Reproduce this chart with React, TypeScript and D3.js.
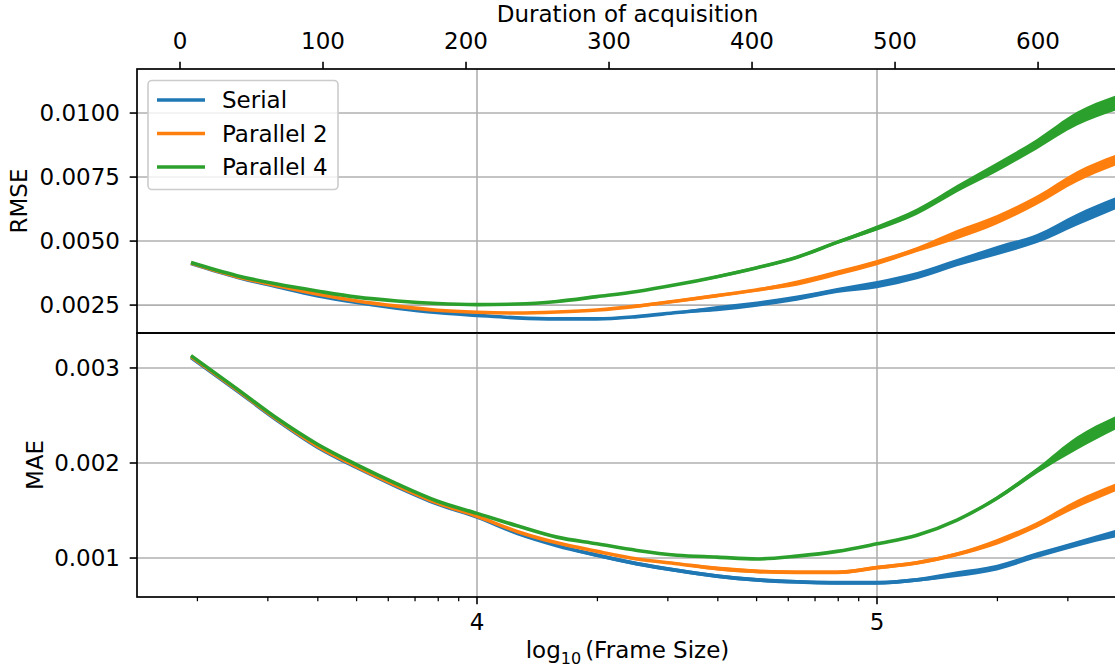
import * as d3 from "d3";

// log10(frame size) sample positions
const logFrame = [
  3.285, 3.4, 3.5, 3.6, 3.7, 3.8, 3.9, 4.0, 4.1, 4.2, 4.3, 4.4, 4.5, 4.6, 4.7,
  4.8, 4.9, 5.0, 5.1, 5.2, 5.3, 5.4, 5.5, 5.6,
];

// RMSE panel
const rmseSerial = [
  0.00412, 0.00359, 0.00322, 0.00287, 0.0026, 0.00238, 0.00221, 0.0021, 0.002,
  0.00196, 0.00196, 0.00205, 0.00221, 0.00236, 0.00254, 0.00277, 0.00307,
  0.0033, 0.00365, 0.00416, 0.00463, 0.0051, 0.00584, 0.0065,
];
const rmseParallel2 = [
  0.00414, 0.00361, 0.00326, 0.00293, 0.00266, 0.00246, 0.0023, 0.00222,
  0.00219, 0.00223, 0.00231, 0.00246, 0.00266, 0.00287, 0.00309, 0.00336,
  0.00375, 0.00416, 0.00467, 0.00525, 0.00584, 0.0066, 0.00752, 0.00818,
];
const rmseParallel4 = [
  0.00416, 0.00365, 0.00332, 0.00305, 0.00281, 0.00266, 0.00256, 0.00252,
  0.00254, 0.00264, 0.00283, 0.00303, 0.0033, 0.00361, 0.00396, 0.00437,
  0.00495, 0.00551, 0.00615, 0.00705, 0.00789, 0.00879, 0.00978, 0.01041,
];
// half-width of the noisy band around each RMSE curve
const rmseSpreadSerial = [
  0.00001, 0.00001, 0.00001, 0.00001, 0.00001, 0.00001, 0.00001, 0.00001,
  0.00001, 0.00004, 0.00004, 0.00004, 0.00004, 0.0001, 0.0001, 0.0001, 0.0001,
  0.00014, 0.00014, 0.00014, 0.00018, 0.00018, 0.00023, 0.00023,
];
const rmseSpreadParallel2 = [
  0.00001, 0.00001, 0.00001, 0.00001, 0.00001, 0.00001, 0.00001, 0.00001,
  0.00001, 0.00001, 0.00001, 0.00006, 0.00006, 0.00006, 0.00006, 0.0001,
  0.0001, 0.0001, 0.0001, 0.00018, 0.00018, 0.00018, 0.00021, 0.00021,
];
const rmseSpreadParallel4 = [
  0.00001, 0.00001, 0.00001, 0.00001, 0.00001, 0.00001, 0.00001, 0.00001,
  0.00001, 0.00003, 0.00003, 0.00003, 0.00003, 0.00006, 0.00006, 0.00006,
  0.00006, 0.0001, 0.00012, 0.00014, 0.00018, 0.0002, 0.00027, 0.00029,
];

// MAE panel
const maeSerial = [
  0.00311, 0.00276, 0.00245, 0.00217, 0.00195, 0.00175, 0.00157, 0.00143,
  0.00126, 0.00113, 0.00103, 0.00094, 0.00087, 0.00081, 0.00077, 0.00075,
  0.00074, 0.00074, 0.00077, 0.00083, 0.0009, 0.00103, 0.00115, 0.00126,
];
const maeParallel2 = [
  0.00312, 0.00277, 0.00246, 0.00218, 0.00196, 0.00176, 0.00158, 0.00144,
  0.00128, 0.00116, 0.00107, 0.00099, 0.00094, 0.00089, 0.00086, 0.00085,
  0.00085, 0.0009, 0.00095, 0.00104, 0.00117, 0.00135, 0.00157, 0.00175,
];
const maeParallel4 = [
  0.00313, 0.00278, 0.00247, 0.0022, 0.00198, 0.00178, 0.0016, 0.00147,
  0.00134, 0.00122, 0.00115, 0.00108, 0.00103, 0.00101, 0.00099, 0.00102,
  0.00107, 0.00115, 0.00124, 0.0014, 0.00163, 0.00192, 0.00221, 0.00243,
];
const maeSpreadSerial = [
  0.00001, 0.00001, 0.00001, 0.00001, 0.00001, 0.00001, 0.00001, 0.00001,
  0.00001, 0.00001, 0.00002, 0.00002, 0.00002, 0.00002, 0.00002, 0.00002,
  0.00002, 0.00002, 0.00002, 0.00003, 0.00003, 0.00003, 0.00003, 0.00004,
];
const maeSpreadParallel2 = [
  0.00001, 0.00001, 0.00001, 0.00001, 0.00001, 0.00001, 0.00001, 0.00001,
  0.00001, 0.00001, 0.00001, 0.00001, 0.00001, 0.00002, 0.00002, 0.00002,
  0.00002, 0.00002, 0.00002, 0.00002, 0.00003, 0.00003, 0.00004, 0.00004,
];
const maeSpreadParallel4 = [
  0.00001, 0.00001, 0.00001, 0.00001, 0.00001, 0.00001, 0.00001, 0.00001,
  0.00001, 0.00001, 0.00001, 0.00001, 0.00001, 0.00001, 0.00001, 0.00001,
  0.00001, 0.00001, 0.00001, 0.00001, 0.00002, 0.00003, 0.00007, 0.00007,
];

const seriesNames = ["Serial", "Parallel 2", "Parallel 4"];
const colors = ["#1f77b4", "#ff7f0e", "#2ca02c"];

const rmseTicks = [0.0025, 0.005, 0.0075, 0.01];
const maeTicks = [0.001, 0.002, 0.003];
const frameTicks = [4, 5];
const durationTicks = [0, 100, 200, 300, 400, 500, 600];

const WIDTH = 1115;
const HEIGHT = 671;
const FONT = "DejaVu Sans, sans-serif";
const FS = 23;
const left = 137;
const right = 1118;
const top = 69;
const mid = 333;
const bottom = 597;

const x = d3.scaleLinear([3.15, 5.6025], [left, right]);
const xDuration = d3.scaleLinear([-30.07, 655.9], [left, right]);
const yRmse = d3.scaleLinear([0.00141, 0.01172], [mid, top]);
const yMae = d3.scaleLinear([0.00059, 0.003368], [bottom, mid]);

// minor ticks for the log axis
const minorTicks = d3
  .range(3, 6)
  .flatMap((e) => d3.range(2, 10).map((k) => Math.log10(k) + e))
  .filter((v) => v > 3.15 && v < 5.6);

function Panel({ id, y, y0, y1, values, spreads, ticks, fmt }) {
  return (
    <g>
      <clipPath id={id}>
        <rect x={left} y={y0} width={right - left} height={y1 - y0} />
      </clipPath>
      {/* grid */}
      <g stroke="#b0b0b0" strokeWidth={1.6}>
        {ticks.map((t) => (
          <line key={t} x1={left} x2={right} y1={y(t)} y2={y(t)} />
        ))}
        {frameTicks.map((t) => (
          <line key={t} x1={x(t)} x2={x(t)} y1={y0} y2={y1} />
        ))}
      </g>
      {/* series */}
      <g clipPath={`url(#${id})`}>
        {values.map((vals, i) => {
          const area = d3
            .area<number>()
            .curve(d3.curveMonotoneX)
            .x((_, j) => x(logFrame[j]))
            .y0((v, j) => y(v - spreads[i][j]))
            .y1((v, j) => y(v + spreads[i][j]));
          const line = d3
            .line<number>()
            .curve(d3.curveMonotoneX)
            .x((_, j) => x(logFrame[j]))
            .y((v) => y(v));
          return (
            <g key={i}>
              <path d={area(vals)} fill={colors[i]} />
              <path
                d={line(vals)}
                fill="none"
                stroke={colors[i]}
                strokeWidth={3.6}
                strokeLinejoin="round"
              />
            </g>
          );
        })}
      </g>
      {/* y axis */}
      <g fontFamily={FONT} fontSize={FS} textAnchor="end">
        {ticks.map((t) => (
          <g key={t}>
            <line x1={left - 7.3} x2={left} y1={y(t)} y2={y(t)} stroke="black" strokeWidth={1.6} />
            <text x={120} y={y(t)} dy="0.36em">
              {fmt(t)}
            </text>
          </g>
        ))}
      </g>
      <rect
        x={left}
        y={y0}
        width={right - left}
        height={y1 - y0}
        fill="none"
        stroke="black"
        strokeWidth={1.7}
      />
    </g>
  );
}

export default function App() {
  return (
    <svg
      width={WIDTH}
      height={HEIGHT}
      style={{ position: "absolute", left: 0, top: 0, background: "white" }}
    >
      <Panel
        id="clip-rmse"
        y={yRmse}
        y0={top}
        y1={mid}
        values={[rmseSerial, rmseParallel2, rmseParallel4]}
        spreads={[rmseSpreadSerial, rmseSpreadParallel2, rmseSpreadParallel4]}
        ticks={rmseTicks}
        fmt={d3.format(".4f")}
      />
      <Panel
        id="clip-mae"
        y={yMae}
        y0={mid}
        y1={bottom}
        values={[maeSerial, maeParallel2, maeParallel4]}
        spreads={[maeSpreadSerial, maeSpreadParallel2, maeSpreadParallel4]}
        ticks={maeTicks}
        fmt={d3.format(".3f")}
      />

      {/* top axis: duration */}
      <g fontFamily={FONT} fontSize={FS} textAnchor="middle">
        {durationTicks.map((t) => (
          <g key={t}>
            <line
              x1={xDuration(t)}
              x2={xDuration(t)}
              y1={top - 7.3}
              y2={top}
              stroke="black"
              strokeWidth={1.6}
            />
            <text x={xDuration(t)} y={49}>
              {t}
            </text>
          </g>
        ))}
        <text x={(left + right) / 2} y={22}>
          Duration of acquisition
        </text>
      </g>

      {/* bottom axis: log10 frame size */}
      <g fontFamily={FONT} fontSize={FS} textAnchor="middle">
        {minorTicks.map((t) => (
          <line
            key={t}
            x1={x(t)}
            x2={x(t)}
            y1={bottom}
            y2={bottom + 4.2}
            stroke="black"
            strokeWidth={1.25}
          />
        ))}
        {frameTicks.map((t) => (
          <g key={t}>
            <line x1={x(t)} x2={x(t)} y1={bottom} y2={bottom + 7.3} stroke="black" strokeWidth={1.6} />
            <text x={x(t)} y={630}>
              {t}
            </text>
          </g>
        ))}
        <text x={(left + right) / 2} y={658}>
          log
          <tspan fontSize={16} dy={6}>
            10
          </tspan>
          <tspan dy={-6} dx={4}>(Frame Size)</tspan>
        </text>
      </g>

      {/* y labels */}
      <g fontFamily={FONT} fontSize={FS} textAnchor="middle">
        <text transform={`translate(27,${(top + mid) / 2}) rotate(-90)`}>RMSE</text>
        <text transform={`translate(43,${(mid + bottom) / 2}) rotate(-90)`}>MAE</text>
      </g>

      {/* legend */}
      <g fontFamily={FONT} fontSize={FS}>
        <rect
          x={148}
          y={80.5}
          width={190}
          height={109}
          rx={4}
          fill="white"
          fillOpacity={0.8}
          stroke="#cccccc"
          strokeWidth={1.6}
        />
        {seriesNames.map((name, i) => (
          <g key={name} transform={`translate(0,${100 + i * 33.5})`}>
            <line x1={157} x2={205} y1={0} y2={0} stroke={colors[i]} strokeWidth={3.4} />
            <text x={222} y={0} dy="0.36em">
              {name}
            </text>
          </g>
        ))}
      </g>
    </svg>
  );
}
